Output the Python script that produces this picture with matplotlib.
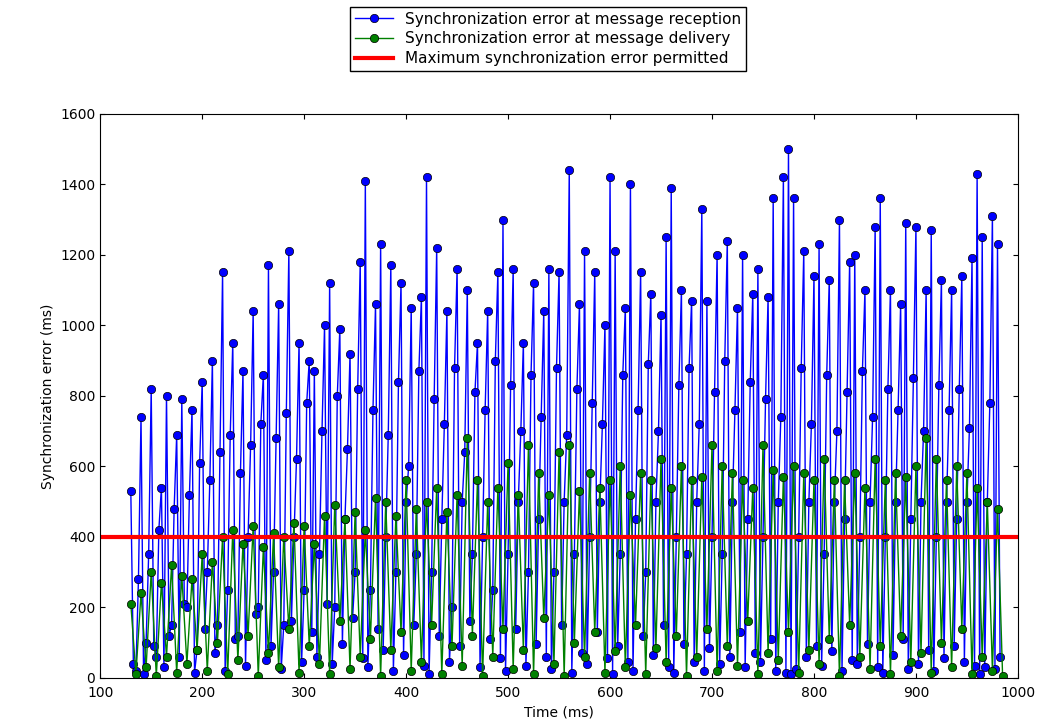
import matplotlib
matplotlib.use("Agg")
import matplotlib.pyplot as plt
import numpy as np

# sampled readings, every 5 ms from 130 to 980
t_blue = np.arange(130, 981, 5)
blue_high = [530, 20, 740, 100, 820, 60, 540, 800, 150, 690, 790, 200, 760, 80, 840, 300, 900, 150, 1150, 250,
             950, 120, 870, 400, 1040, 200, 860, 1170, 300, 1060, 150, 1210, 400, 950, 250, 900, 870, 350, 1000, 1120,
             200, 990, 450, 920, 300, 1180, 1410, 250, 1060, 1230, 400, 1170, 300, 1120, 500, 1050, 350, 1080, 1420, 300,
             1220, 450, 1040, 200, 1160, 500, 1100, 350, 950, 400, 1040, 250, 1150, 1300, 350, 1160, 500, 950, 300, 1120,
             450, 1040, 1160, 300, 1150, 500, 1440, 350, 1060, 1210, 400, 1150, 500, 1000, 1420, 1210, 350, 1050, 1400, 450,
             1150, 300, 1090, 500, 1030, 1250, 1390, 400, 1100, 350, 1070, 500, 1330, 1070, 400, 1200, 350, 1240, 500, 1050,
             1200, 450, 1090, 1160, 400, 1080, 1360, 500, 1420, 1500, 1360, 400, 1210, 500, 1140, 1230, 350, 1130, 500, 1300,
             450, 1180, 1200, 400, 1100, 500, 1280, 1360, 400, 1100, 500, 1060, 1290, 450, 1280, 500, 1100, 1270, 400, 1130,
             500, 1100, 450, 1140, 500, 1190, 1430, 1250, 500, 1310, 1230]
blue_low = [40, 280, 10, 350, 90, 420, 30, 120, 480, 60, 210, 520, 15, 610, 140, 560, 70, 640, 20, 690,
            110, 580, 35, 660, 180, 720, 50, 90, 680, 25, 750, 160, 620, 45, 780, 130, 60, 700, 210, 40,
            800, 95, 650, 170, 820, 55, 30, 760, 140, 80, 690, 20, 840, 65, 600, 150, 870, 35, 10, 790,
            120, 720, 45, 880, 90, 640, 160, 810, 30, 760, 110, 900, 55, 20, 830, 140, 700, 35, 860, 95,
            740, 60, 25, 880, 150, 690, 15, 820, 70, 40, 780, 130, 720, 55, 10, 90, 860, 45, 20, 760,
            120, 890, 65, 700, 150, 30, 15, 830, 95, 880, 45, 720, 20, 85, 810, 40, 900, 60, 760, 130,
            30, 840, 70, 45, 790, 110, 20, 740, 15, 10, 25, 880, 60, 720, 90, 35, 860, 75, 700, 20,
            810, 50, 40, 870, 95, 740, 30, 15, 820, 65, 760, 110, 25, 850, 40, 700, 80, 20, 830, 55,
            760, 90, 820, 45, 710, 35, 10, 30, 780, 25, 60]

# every 10 ms from 130 to 980
t_green = np.arange(130, 981, 10)
green_high = [210, 240, 300, 270, 320, 290, 280, 350, 330, 400, 420, 380, 430, 370, 410, 400, 440, 430, 380, 460,
              490, 450, 470, 420, 510, 500, 460, 560, 480, 500, 540, 470, 520, 680, 560, 500, 540, 610, 520, 660,
              580, 520, 640, 660, 530, 580, 540, 560, 600, 520, 580, 560, 620, 540, 600, 560, 570, 660, 600, 580,
              560, 540, 660, 590, 570, 600, 580, 560, 620, 560, 560, 580, 540, 620, 560, 580, 570, 600, 680, 620,
              560, 600, 580, 540, 500, 480]
green_low = [10, 30, 5, 60, 15, 40, 80, 20, 100, 10, 50, 120, 5, 70, 30, 140, 15, 90, 40, 10,
             160, 25, 60, 110, 5, 80, 130, 20, 45, 150, 10, 90, 35, 120, 5, 60, 140, 25, 80, 10,
             170, 40, 5, 100, 60, 130, 15, 75, 30, 150, 10, 85, 45, 120, 5, 60, 140, 20, 90, 35,
             160, 10, 70, 50, 130, 15, 80, 40, 110, 5, 150, 60, 25, 90, 10, 120, 45, 70, 15, 100,
             30, 140, 10, 60, 20, 5]

max_error = 400

def interleave(a, b):
    out = np.empty(len(a) * 2)
    out[0::2] = a
    out[1::2] = b
    return out

tb = np.repeat(t_blue, 2) + np.tile([0, 2.5], len(t_blue))
yb = interleave(blue_high, blue_low)
tg = np.repeat(t_green, 2) + np.tile([0, 5], len(t_green))
yg = interleave(green_high, green_low)

fig = plt.figure(figsize=(10.44, 7.25), dpi=100)
ax = fig.add_axes([0.096, 0.065, 0.879, 0.778])
ax.plot(tb, yb, color="b", marker="o", markersize=6, markeredgecolor="k", markeredgewidth=0.5, lw=1,
        label="Synchronization error at message reception")
ax.plot(tg, yg, color="g", marker="o", markersize=6, markeredgecolor="k", markeredgewidth=0.5, lw=1,
        label="Synchronization error at message delivery")
ax.axhline(max_error, color="r", lw=3, label="Maximum synchronization error permitted")

ax.set_xlim(100, 1000)
ax.set_ylim(0, 1600)
ax.set_xlabel("Time (ms)")
ax.set_ylabel("Synchronization error (ms)")
ax.tick_params(direction="in", top=True, right=True)
ax.tick_params(axis="x", pad=6)
fig.legend(loc="upper center", bbox_to_anchor=(0.525, 0.99), fancybox=False, edgecolor="k",
           fontsize=11, framealpha=1, borderaxespad=0, handlelength=2.5, borderpad=0.3, labelspacing=0.3)

fig.savefig("out.png", dpi=100)
